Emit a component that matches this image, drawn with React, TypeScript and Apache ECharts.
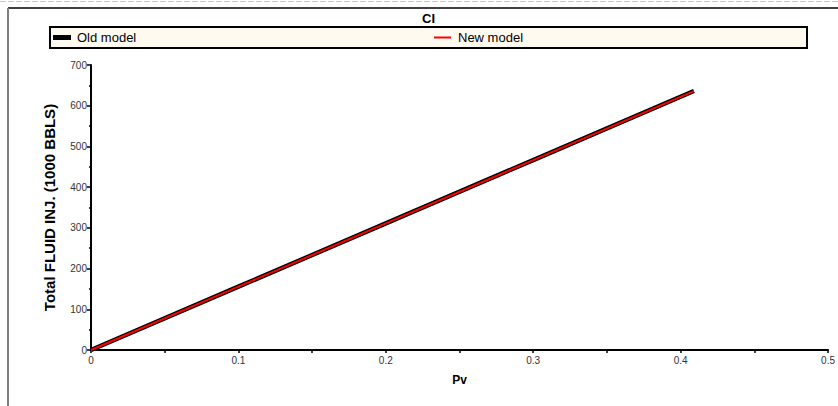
import React, { useEffect, useRef } from "react";
import * as echarts from "echarts";

const titleText = "CI";
const seriesNames = ["Old model", "New model"];
const oldModel: [number, number][] = [
  [0, 0],
  [0.1, 155.5],
  [0.2, 311],
  [0.3, 466.5],
  [0.409, 636],
];
const newModel: [number, number][] = [
  [0, 0],
  [0.1, 155.5],
  [0.2, 311],
  [0.3, 466.5],
  [0.409, 636],
];
const xName = "Pv";
const yName = "Total FLUID INJ. (1000 BBLS)";

const FONT = "'Liberation Sans', Arial, sans-serif";
const NARROW = "'Liberation Sans Narrow', 'Liberation Sans', Arial, sans-serif";

export default function App() {
  const ref = useRef<HTMLDivElement>(null);
  useEffect(() => {
    if (!ref.current) return;
    const chart = echarts.init(ref.current, undefined, { renderer: "svg" });
    chart.setOption({
      animation: false,
      backgroundColor: "#ffffff",
      title: {
        text: titleText,
        left: 422,
        top: 12,
        padding: 0,
        textStyle: { fontFamily: NARROW, fontSize: 13, fontWeight: "bold", color: "#000" },
      },
      graphic: [
        { type: "line", shape: { x1: 0, y1: 1.5, x2: 838, y2: 1.5 }, style: { stroke: "#c8c8c8", lineWidth: 1, lineDash: [6, 2] } },
        { type: "line", shape: { x1: 8, y1: 8, x2: 838, y2: 8 }, style: { stroke: "#000", lineWidth: 1.5 } },
        { type: "line", shape: { x1: 8, y1: 8, x2: 8, y2: 406 }, style: { stroke: "#7f7f7f", lineWidth: 2 } },
        {
          type: "rect",
          z: -1,
          shape: { x: 50, y: 27, width: 757, height: 21 },
          style: { fill: "#fffaf0", stroke: "#000", lineWidth: 2 },
        },
      ],
      legend: [
        {
          data: [{ name: seriesNames[0], icon: "rect" }],
          left: 53,
          top: 31,
          padding: 0,
          itemWidth: 18,
          itemHeight: 5,
          itemGap: 0,
          textStyle: { fontFamily: NARROW, fontSize: 13, color: "#000", padding: [0, 0, 0, 1] },
        },
        {
          data: [{ name: seriesNames[1], icon: "rect" }],
          left: 434,
          top: 31,
          padding: 0,
          itemWidth: 17,
          itemHeight: 2,
          itemGap: 0,
          textStyle: { fontFamily: NARROW, fontSize: 13, color: "#000", padding: [0, 0, 0, 2] },
        },
      ],
      grid: { left: 91, right: 9, top: 65, bottom: 56, containLabel: false },
      xAxis: {
        type: "value",
        min: 0,
        max: 0.5,
        interval: 0.1,
        name: xName,
        nameLocation: "middle",
        nameGap: 24,
        nameTextStyle: { fontFamily: FONT, fontSize: 12, fontWeight: "bold", color: "#000" },
        axisLine: { show: true, onZero: false, lineStyle: { color: "#000", width: 2 } },
        axisTick: { show: true, length: 3, lineStyle: { color: "#000", width: 1.5 } },
        minorTick: { show: true, splitNumber: 2, length: 3, lineStyle: { color: "#000", width: 1.5 } },
        splitLine: { show: false },
        axisLabel: { fontFamily: FONT, fontSize: 10, color: "#333", margin: 5 },
      },
      yAxis: {
        type: "value",
        min: 0,
        max: 700,
        interval: 100,
        name: yName,
        nameLocation: "middle",
        nameGap: 34,
        nameTextStyle: { fontFamily: FONT, fontSize: 15, fontWeight: "bold", color: "#000" },
        axisLine: { show: true, onZero: false, lineStyle: { color: "#000", width: 2 } },
        axisTick: { show: true, length: 4, lineStyle: { color: "#000", width: 1.5 } },
        minorTick: { show: true, splitNumber: 2, length: 2, lineStyle: { color: "#000", width: 1.5 } },
        splitLine: { show: false },
        axisLabel: { fontFamily: FONT, fontSize: 10, color: "#333", margin: 4 },
      },
      series: [
        {
          name: seriesNames[0],
          type: "line",
          data: oldModel,
          showSymbol: false,
          symbol: "none",
          itemStyle: { color: "#000" },
          lineStyle: { color: "#000", width: 4.5 },
          z: 2,
        },
        {
          name: seriesNames[1],
          type: "line",
          data: newModel,
          showSymbol: false,
          symbol: "none",
          itemStyle: { color: "#ff0000" },
          lineStyle: { color: "#ff0000", width: 2 },
          z: 3,
        },
      ],
    });
    return () => chart.dispose();
  }, []);
  return (
    <div
      ref={ref}
      style={{ position: "fixed", left: 0, top: 0, width: 838, height: 406 }}
    />
  );
}
